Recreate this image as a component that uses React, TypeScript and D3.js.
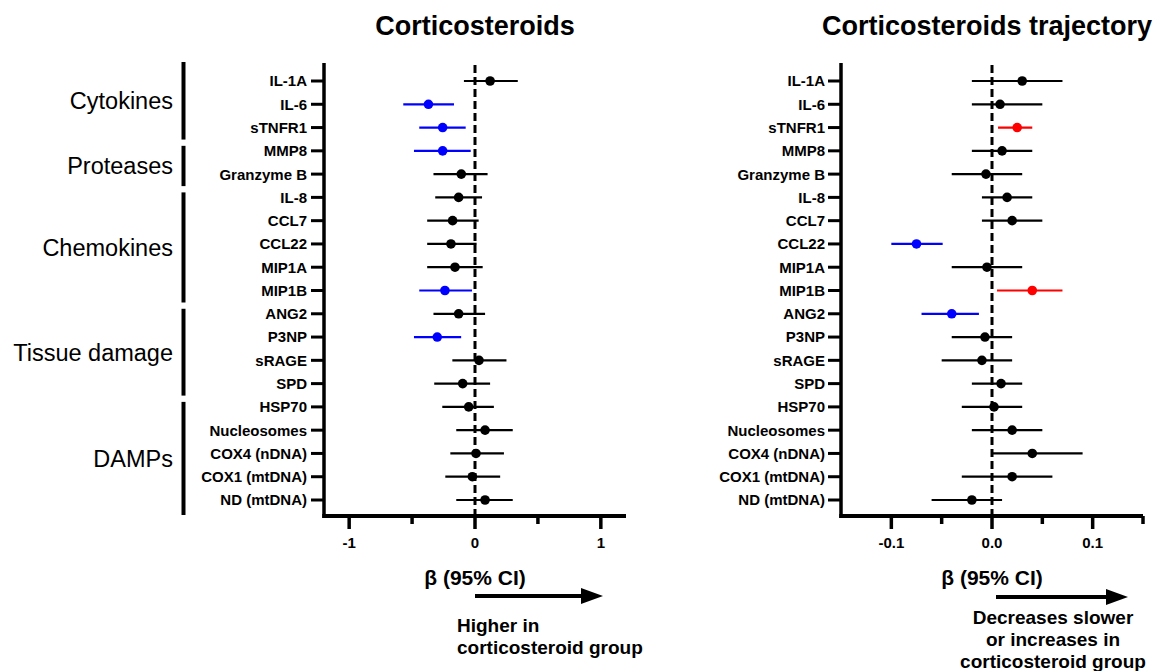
import React from "react";
import * as d3 from "d3";

const categories = ["IL-1A","IL-6","sTNFR1","MMP8","Granzyme B","IL-8","CCL7","CCL22","MIP1A","MIP1B","ANG2","P3NP","sRAGE","SPD","HSP70","Nucleosomes","COX4 (nDNA)","COX1 (mtDNA)","ND (mtDNA)"];

const groupNames = ["Cytokines","Proteases","Chemokines","Tissue damage","DAMPs"];
const groupFirst = [0, 3, 5, 10, 14];
const groupLast = [2, 4, 9, 13, 18];

const leftEst = [0.12,-0.37,-0.257,-0.257,-0.109,-0.13,-0.178,-0.191,-0.159,-0.239,-0.13,-0.30,0.032,-0.098,-0.05,0.08,0.008,-0.021,0.08];
const leftLo = [-0.088,-0.57,-0.443,-0.485,-0.33,-0.316,-0.38,-0.38,-0.38,-0.443,-0.33,-0.485,-0.18,-0.324,-0.26,-0.149,-0.196,-0.236,-0.149];
const leftHi = [0.34,-0.167,-0.074,-0.034,0.10,0.056,0.029,0.013,0.061,-0.024,0.08,-0.11,0.25,0.12,0.15,0.30,0.23,0.20,0.30];

const rightEst = [0.030,0.008,0.025,0.010,-0.006,0.015,0.020,-0.075,-0.005,0.040,-0.040,-0.007,-0.010,0.009,0.002,0.020,0.040,0.020,-0.020];
const rightLo = [-0.020,-0.020,0.006,-0.020,-0.040,-0.010,-0.010,-0.100,-0.040,0.005,-0.070,-0.040,-0.050,-0.020,-0.030,-0.020,0.0,-0.030,-0.060];
const rightHi = [0.070,0.050,0.040,0.040,0.030,0.040,0.050,-0.049,0.030,0.070,-0.013,0.020,0.020,0.030,0.030,0.050,0.090,0.060,0.010];

const leftMajorTicks = [-1, 0, 1];
const leftMinorTicks = [-0.5, 0.5];
const leftTickLabels = ["-1", "0", "1"];
const rightMajorTicks = [-0.1, 0, 0.1];
const rightMinorTicks = [-0.05, 0.05, 0.15];
const rightTickLabels = ["-0.1", "0.0", "0.1"];

const titles = ["Corticosteroids", "Corticosteroids trajectory"];
const axisTitle = "β (95% CI)";
const leftNote = ["Higher in", "corticosteroid group"];
const rightNote = ["Decreases slower", "or increases in", "corticosteroid group"];

const FONT = "'Liberation Sans', Arial, Helvetica, sans-serif";
const AXIS_TOP = 63;
const AXIS_Y = 516;

const y = d3.scalePoint<string>().domain(categories).range([81, 500]);

function colorFor(lo: number, hi: number) {
  if (lo > 0) return "#FF0000";
  if (hi < 0) return "#0000FF";
  return "#000000";
}

type PanelProps = {
  x: d3.ScaleLinear<number, number>;
  est: number[]; lo: number[]; hi: number[];
  major: number[]; minor: number[]; tickLabels: string[];
  title: string; titleX: number;
  labelRight: number;
};

function Panel(p: PanelProps) {
  const { x } = p;
  const [x0, x1] = x.range();
  return (
    <g>
      <text x={p.titleX} y={35} textAnchor="middle" fontFamily={FONT} fontWeight="bold" fontSize={27}>{p.title}</text>
      {/* y axis */}
      <line x1={x0} x2={x0} y1={AXIS_TOP} y2={AXIS_Y + 2} stroke="#000" strokeWidth={3.5} />
      {categories.map((c) => (
        <g key={c}>
          <line x1={x0 - 13} x2={x0} y1={y(c)!} y2={y(c)!} stroke="#000" strokeWidth={3} />
          <text x={p.labelRight} y={y(c)!} dy="0.36em" textAnchor="end" fontFamily={FONT} fontWeight="bold" fontSize={15}>{c}</text>
        </g>
      ))}
      {/* x axis */}
      <line x1={x0 - 1.75} x2={x1} y1={AXIS_Y} y2={AXIS_Y} stroke="#000" strokeWidth={4} />
      {p.major.map((t, i) => (
        <g key={"M" + t}>
          <line x1={x(t)} x2={x(t)} y1={AXIS_Y} y2={AXIS_Y + 13} stroke="#000" strokeWidth={3.5} />
          <text x={x(t)} y={548} textAnchor="middle" fontFamily={FONT} fontWeight="bold" fontSize={15}>{p.tickLabels[i]}</text>
        </g>
      ))}
      {p.minor.map((t) => (
        <line key={"m" + t} x1={x(t)} x2={x(t)} y1={AXIS_Y} y2={AXIS_Y + 8} stroke="#000" strokeWidth={3.5} />
      ))}
      {/* zero line */}
      <line x1={x(0)} x2={x(0)} y1={AXIS_TOP + 2} y2={AXIS_Y} stroke="#000" strokeWidth={3} strokeDasharray="8,4" />
      {/* estimates */}
      {categories.map((c, i) => {
        const col = colorFor(p.lo[i], p.hi[i]);
        return (
          <g key={"e" + c}>
            <line x1={x(p.lo[i])} x2={x(p.hi[i])} y1={y(c)!} y2={y(c)!} stroke={col} strokeWidth={2.2} />
            <circle cx={x(p.est[i])} cy={y(c)!} r={4.8} fill={col} />
          </g>
        );
      })}
      <text x={x(0)} y={585} textAnchor="middle" fontFamily={FONT} fontWeight="bold" fontSize={21}>{axisTitle}</text>
    </g>
  );
}

function Arrow({ x0, x1, yy }: { x0: number; x1: number; yy: number }) {
  return (
    <g>
      <line x1={x0} x2={x1 - 18} y1={yy} y2={yy} stroke="#000" strokeWidth={4} />
      <polygon points={`${x1 - 22},${yy - 8} ${x1},${yy} ${x1 - 22},${yy + 8}`} fill="#000" />
    </g>
  );
}

export default function App() {
  const xL = d3.scaleLinear().domain([-1.2, 1.2]).range([324, 626]);
  const xR = d3.scaleLinear().domain([-0.15, 0.15]).range([841, 1143]);

  const bars = groupNames.map((g, i) => {
    const top = groupFirst[i] === 0 ? AXIS_TOP - 1 : y(categories[groupFirst[i]])! - 5;
    const bottom = groupLast[i] === categories.length - 1 ? AXIS_Y - 1 : y(categories[groupLast[i]])! + 12;
    return { g, top, bottom };
  });

  return (
    <svg width={1163} height={671} style={{ position: "absolute", left: 0, top: 0, background: "#fff" }}>
      <rect width={1163} height={671} fill="#fff" />
      {bars.map((b) => (
        <g key={b.g}>
          <line x1={183.5} x2={183.5} y1={b.top} y2={b.bottom} stroke="#000" strokeWidth={4} />
          <text x={173} y={(b.top + b.bottom) / 2} dy="0.36em" textAnchor="end" fontFamily={FONT} fontSize={23.5}>{b.g}</text>
        </g>
      ))}
      <Panel x={xL} est={leftEst} lo={leftLo} hi={leftHi} major={leftMajorTicks} minor={leftMinorTicks} tickLabels={leftTickLabels} title={titles[0]} titleX={475} labelRight={307} />
      <Panel x={xR} est={rightEst} lo={rightLo} hi={rightHi} major={rightMajorTicks} minor={rightMinorTicks} tickLabels={rightTickLabels} title={titles[1]} titleX={987} labelRight={825} />
      <Arrow x0={xL(0)} x1={603} yy={596} />
      <Arrow x0={xR(0) + 4} x1={1128} yy={597} />
      {leftNote.map((t, i) => (
        <text key={t} x={457} y={632 + i * 21.5} fontFamily={FONT} fontWeight="bold" fontSize={19}>{t}</text>
      ))}
      {rightNote.map((t, i) => (
        <text key={t} x={1053} y={624 + i * 22} textAnchor="middle" fontFamily={FONT} fontWeight="bold" fontSize={19}>{t}</text>
      ))}
    </svg>
  );
}
